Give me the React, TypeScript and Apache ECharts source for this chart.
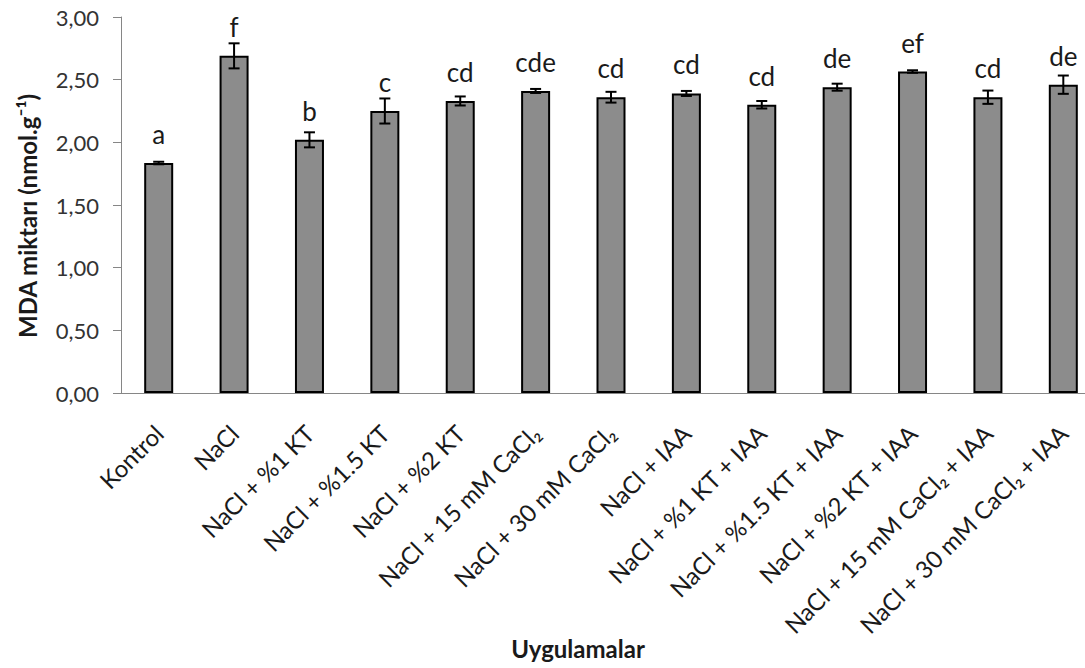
import React, { useEffect, useRef } from "react";
import * as echarts from "echarts";

const categories = [
  "Kontrol",
  "NaCl",
  "NaCl + %1 KT",
  "NaCl + %1.5 KT",
  "NaCl + %2 KT",
  "NaCl + 15 mM CaCl₂",
  "NaCl + 30 mM CaCl₂",
  "NaCl + IAA",
  "NaCl + %1 KT + IAA",
  "NaCl + %1.5 KT + IAA",
  "NaCl + %2 KT + IAA",
  "NaCl + 15 mM CaCl₂ + IAA",
  "NaCl + 30 mM CaCl₂ + IAA",
];
const values = [1.835, 2.69, 2.02, 2.25, 2.33, 2.41, 2.36, 2.39, 2.3, 2.44, 2.565, 2.36, 2.46];
const errors = [0.01, 0.1, 0.06, 0.1, 0.036, 0.016, 0.043, 0.02, 0.03, 0.028, 0.01, 0.053, 0.073];
const letters = ["a", "f", "b", "c", "cd", "cde", "cd", "cd", "cd", "de", "ef", "cd", "de"];
const yAxisTitle = "MDA miktarı (nmol.g⁻¹)";
const xAxisTitle = "Uygulamalar";

const FONT = "Lato, 'Open Sans', sans-serif";

export default function App() {
  const ref = useRef<HTMLDivElement>(null);
  useEffect(() => {
    const chart = echarts.init(ref.current!, null, { renderer: "svg" });
    const errData = values.map((v, i) => [i, v - errors[i], v + errors[i]]);
    chart.setOption({
      animation: false,
      backgroundColor: "#ffffff",
      grid: { left: 121, top: 17, width: 980, height: 376, containLabel: false },
      xAxis: {
        type: "category",
        data: categories,
        axisLine: { show: true, lineStyle: { color: "#868686", width: 1 } },
        axisTick: { show: false },
        axisLabel: {
          interval: 0,
          rotate: 45,
          margin: 36,
          fontSize: 24,
          fontFamily: FONT,
          color: "#1a1a1a",
        },
      },
      yAxis: {
        type: "value",
        min: 0,
        max: 3,
        interval: 0.5,
        axisLine: { show: true, lineStyle: { color: "#868686", width: 1 } },
        axisTick: { show: true, length: 8, lineStyle: { color: "#868686" } },
        splitLine: { show: false },
        axisLabel: {
          formatter: (v: number) => v.toFixed(2).replace(".", ","),
          fontSize: 22,
          margin: 22,
          fontFamily: FONT,
          color: "#333",
        },
      },
      series: [
        {
          type: "bar",
          data: values,
          barWidth: 29,
          itemStyle: { color: "#8c8c8c", borderColor: "#000", borderWidth: 2 },
          label: {
            show: true,
            position: "top",
            distance: 16,
            formatter: (p: any) => letters[p.dataIndex],
            fontSize: 26,
            fontFamily: FONT,
            color: "#1a1a1a",
          },
        },
        {
          type: "custom",
          z: 10,
          data: errData,
          renderItem: (params: any, api: any) => {
            const x = api.value(0);
            const lo = api.coord([x, api.value(1)]);
            const hi = api.coord([x, api.value(2)]);
            const cap = 5.5;
            const st = { stroke: "#000", lineWidth: 2 };
            return {
              type: "group",
              children: [
                { type: "line", shape: { x1: lo[0], y1: lo[1], x2: hi[0], y2: hi[1] }, style: st },
                { type: "line", shape: { x1: lo[0] - cap, y1: lo[1], x2: lo[0] + cap, y2: lo[1] }, style: st },
                { type: "line", shape: { x1: hi[0] - cap, y1: hi[1], x2: hi[0] + cap, y2: hi[1] }, style: st },
              ],
            };
          },
        },
      ],
      graphic: [
        {
          type: "text",
          x: 27,
          y: 216,
          rotation: Math.PI / 2,
          style: {
            text: yAxisTitle,
            font: `bold 24px ${FONT}`,
            fill: "#1a1a1a",
            textAlign: "center",
            textVerticalAlign: "middle",
          },
        },
        {
          type: "text",
          x: 578,
          y: 648,
          style: {
            text: xAxisTitle,
            font: `bold 24px ${FONT}`,
            fill: "#1a1a1a",
            textAlign: "center",
            textVerticalAlign: "middle",
          },
        },
      ],
    });
    return () => chart.dispose();
  }, []);
  return (
    <div
      style={{
        position: "absolute",
        left: 0,
        top: 0,
        width: 1085,
        height: 668,
        overflow: "hidden",
        background: "#fff",
      }}
    >
      <div ref={ref} style={{ width: 1120, height: 668 }} />
    </div>
  );
}
